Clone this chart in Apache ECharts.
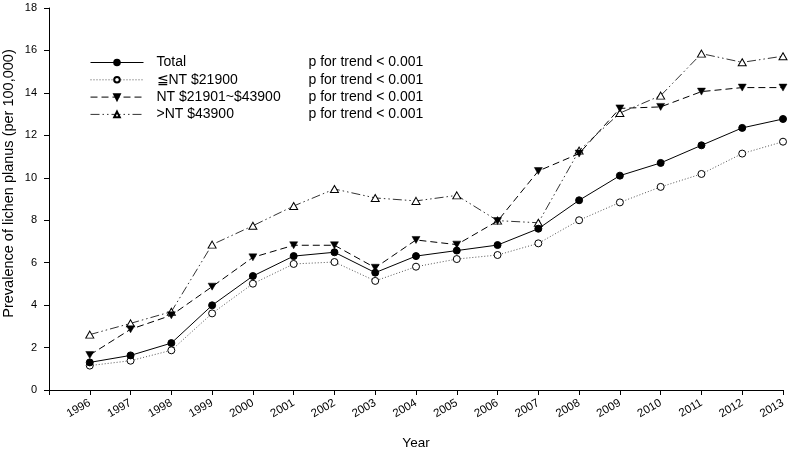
<!DOCTYPE html>
<html>
<head>
<meta charset="utf-8">
<script src="https://cdn.jsdelivr.net/npm/echarts@6/dist/echarts.min.js"></script>
<style>
html,body{margin:0;padding:0;background:#fff;}
#main{width:789px;height:450px;}
</style>
</head>
<body>
<div id="main"></div>
<script>
var years = [1996,1997,1998,1999,2000,2001,2002,2003,2004,2005,2006,2007,2008,2009,2010,2011,2012,2013];
var seriesNames = ['Total','≦NT $21900','NT $21901~$43900','>NT $43900'];
var total = [1.30,1.63,2.21,3.99,5.37,6.31,6.49,5.53,6.31,6.57,6.83,7.60,8.94,10.10,10.70,11.53,12.35,12.77];
var low = [1.15,1.38,1.87,3.61,5.01,5.94,6.03,5.14,5.81,6.17,6.36,6.91,8.00,8.84,9.57,10.18,11.14,11.70];
var mid = [1.65,2.86,3.52,4.87,6.25,6.82,6.82,5.76,7.07,6.85,7.96,10.32,11.14,13.27,13.34,14.06,14.25,14.25];
var high = [2.61,3.14,3.69,6.85,7.74,8.67,9.47,9.05,8.91,9.17,7.98,7.88,11.28,13.05,13.87,15.85,15.44,15.73];
var trendText = 'p for trend < 0.001';
var yTitle = 'Prevalence of lichen planus (per 100,000)';
var xTitle = 'Year';

function pairs(vals){ return years.map(function(y,i){ return [y, vals[i]]; }); }

var FONT = 'Liberation Sans';
var chart = echarts.init(document.getElementById('main'), null, {renderer:'canvas'});
var downTri = 'path://M0,0 L10,0 L5,9 Z';

var option = {
  animation: false,
  backgroundColor: '#fff',
  grid: {left: 49, right: 6, top: 8, bottom: 60, containLabel: false, outerBoundsMode: 'none'},
  legend: {
    orient: 'vertical',
    left: 90, top: 54, padding: 0,
    itemWidth: 53, itemHeight: 7, itemGap: 0.3,
    data: seriesNames,
    lineStyle: {width: 1},
    formatter: function(name){ return '{a|' + name + '}{b|' + trendText + '}'; },
    textStyle: {
      fontFamily: FONT, fontSize: 14, color: '#000', lineHeight: 17,
      rich: {
        a: {fontFamily: FONT, fontSize: 14, color: '#000', width: 152, padding: [0,0,0,8], lineHeight: 17},
        b: {fontFamily: FONT, fontSize: 14, color: '#000', lineHeight: 17}
      }
    }
  },
  graphic: [
    {
      type: 'text', x: 9, y: 183.5, rotation: Math.PI / 2,
      style: {text: yTitle, fontFamily: FONT, fontSize: 14.5, fill: '#000', align: 'center', verticalAlign: 'middle'}
    }
  ],
  xAxis: {
    type: 'value', min: 1995, max: 2013, interval: 1,
    name: xTitle, nameLocation: 'middle', nameGap: 46, nameMoveOverlap: false,
    nameTextStyle: {fontFamily: FONT, fontSize: 13.5, color: '#000'},
    axisLine: {lineStyle: {color: '#000', width: 1}},
    axisTick: {show: true, length: 5, lineStyle: {color: '#000'}},
    splitLine: {show: false},
    axisLabel: {
      rotate: 30, margin: 12, fontFamily: FONT, fontSize: 11.5, color: '#000',
      formatter: function(v){ return v === 1995 ? '' : String(v); }
    }
  },
  yAxis: {
    type: 'value', min: 0, max: 18, interval: 2,
    axisLine: {show: true, lineStyle: {color: '#000', width: 1}},
    axisTick: {show: true, length: 5, lineStyle: {color: '#000'}},
    splitLine: {show: false},
    axisLabel: {margin: 12, fontFamily: FONT, fontSize: 11, color: '#000'}
  },
  series: [
    {
      name: seriesNames[0], type: 'line', data: pairs(total),
      symbol: 'circle', symbolSize: 7,
      lineStyle: {color: '#000', width: 1, type: 'solid'},
      itemStyle: {color: '#000', borderColor: '#000', borderWidth: 1},
      z: 4
    },
    {
      name: seriesNames[1], type: 'line', data: pairs(low),
      symbol: 'circle', symbolSize: 7,
      lineStyle: {color: '#555', width: 1, type: [1,2]},
      itemStyle: {color: '#fff', borderColor: '#000', borderWidth: 1},
      z: 3
    },
    {
      name: seriesNames[2], type: 'line', data: pairs(mid),
      symbol: downTri, symbolSize: [8,7],
      lineStyle: {color: '#000', width: 1, type: [7,4]},
      itemStyle: {color: '#000', borderColor: '#000', borderWidth: 0.5},
      z: 2
    },
    {
      name: seriesNames[3], type: 'line', data: pairs(high),
      symbol: 'triangle', symbolSize: [8,7],
      lineStyle: {color: '#333', width: 1, type: [9,3,1.5,3,1.5,3]},
      itemStyle: {color: '#fff', borderColor: '#000', borderWidth: 1},
      z: 1
    }
  ]
};
chart.setOption(option);
</script>
</body>
</html>
